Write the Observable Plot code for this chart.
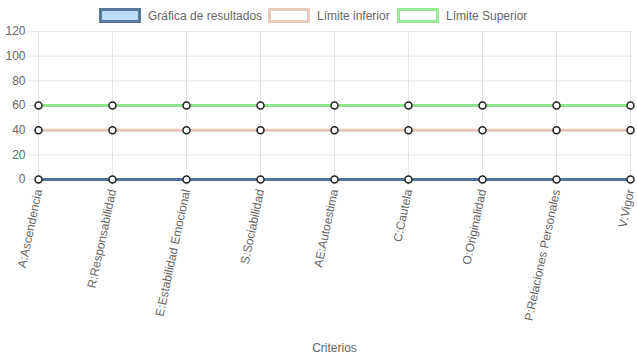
<!DOCTYPE html>
<html>
<head>
<meta charset="utf-8">
<script src="https://cdn.jsdelivr.net/npm/d3@7"></script>
<script src="https://cdn.jsdelivr.net/npm/@observablehq/plot@0.6"></script>
<style>
  html, body { margin: 0; padding: 0; background: #fff; }
  body { width: 637px; height: 359px; overflow: hidden; font-family: "Liberation Sans", Arial, Helvetica, sans-serif; }
  #wrap { position: relative; width: 637px; height: 359px; }
  #legend { position: absolute; left: 0; top: 0; width: 637px; height: 30px; }
  .item { position: absolute; top: 8px; display: flex; align-items: center; font-size: 12px; color: #666; white-space: nowrap; }
  .box { width: 36px; height: 9px; border-width: 3px; border-style: solid; margin-right: 7px; }
  #chart { position: absolute; left: 0; top: 0; }
</style>
</head>
<body>
<div id="wrap">
  <div id="chart"></div>
  <div id="legend"></div>
</div>
<script>
const categories = ["A:Ascendencia", "R:Responsabilidad", "E:Estabilidad Emocional", "S:Sociabilidad", "AE:Autoestima", "C:Cautela", "O:Originalidad", "P:Relaciones Personales", "V:Vigor"];
const resultados = [0, 0, 0, 0, 0, 0, 0, 0, 0];
const limiteInferior = [40, 40, 40, 40, 40, 40, 40, 40, 40];
const limiteSuperior = [60, 60, 60, 60, 60, 60, 60, 60, 60];
const seriesNames = ["Gráfica de resultados", "Límite inferior", "Límite Superior"];
const yTicks = [0, 20, 40, 60, 80, 100, 120];
const xTitle = "Criterios";

const lineColors = ["#52749a", "#e3c5b9", "#8fe38f"];
const boxFills = ["#b9dcf9", "#ffffff", "#ffffff"];
const boxStrokes = ["#56799b", "#e8cabe", "#98e898"];
const boxLefts = [99, 268, 397];

const seriesValues = [resultados, limiteInferior, limiteSuperior];
const rows = [];
seriesValues.forEach((vals, s) => vals.forEach((v, i) => rows.push({series: seriesNames[s], cat: categories[i], value: v})));

// Legend
const legend = document.getElementById("legend");
seriesNames.forEach((name, i) => {
  const item = document.createElement("div");
  item.className = "item";
  item.style.left = boxLefts[i] + "px";
  const box = document.createElement("span");
  box.className = "box";
  box.style.background = boxFills[i];
  box.style.borderColor = boxStrokes[i];
  const label = document.createElement("span");
  label.textContent = name;
  item.appendChild(box);
  item.appendChild(label);
  legend.appendChild(item);
});

const chart = Plot.plot({
  width: 637,
  height: 359,
  marginTop: 31,
  marginBottom: 180,
  marginLeft: 36,
  marginRight: 5,
  style: {fontFamily: "Liberation Sans, Arial, Helvetica, sans-serif", fontSize: "12px", background: "transparent", overflow: "visible"},
  x: {type: "point", domain: categories, padding: 0, label: null},
  y: {domain: [0, 120], label: null},
  marks: [
    Plot.gridY(yTicks, {stroke: "#000", strokeOpacity: 0.1}),
    Plot.gridX(categories, {stroke: "#000", strokeOpacity: 0.1}),
    Plot.axisY(yTicks, {tickSize: 8, tickPadding: 3, stroke: "#000", strokeOpacity: 0.1, fill: "#666", fontSize: 12, label: null}),
    Plot.axisX(categories, {tickSize: 6, tickPadding: 4, tickRotate: -78, stroke: "#000", strokeOpacity: 0.1, fill: "#666", fontSize: 12, label: null}),
    Plot.line(rows, {x: "cat", y: "value", z: "series", stroke: d => lineColors[seriesNames.indexOf(d.series)], strokeWidth: 3}),
    Plot.dot(rows, {x: "cat", y: "value", r: 3.5, fill: "#fff", stroke: "#222", strokeWidth: 1.5}),
    Plot.text([xTitle], {frameAnchor: "bottom", dy: 172, fill: "#666", fontSize: 12})
  ]
});
document.getElementById("chart").appendChild(chart);
</script>
</body>
</html>
